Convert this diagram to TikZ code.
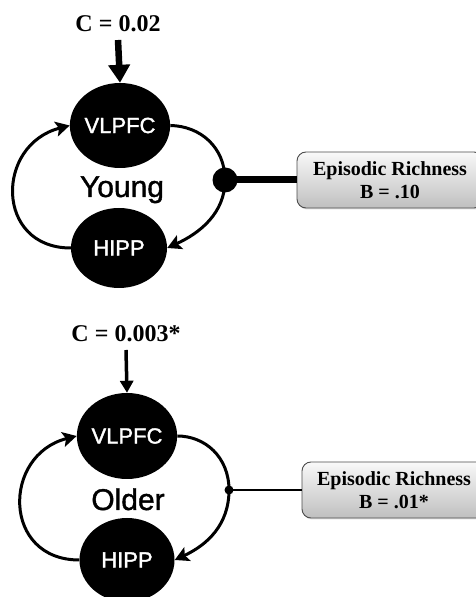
\documentclass[tikz,border=0pt]{standalone}
\usepackage{fontspec}
\setmainfont{Liberation Serif}
\newfontfamily\arialf[FakeBold=1.6]{Liberation Sans}
\newfontfamily\arialg[FakeBold=1.2]{Liberation Sans}
\usetikzlibrary{shapes.geometric,arrows.meta,shadows}
\begin{document}
\begin{tikzpicture}[x=1pt,y=1pt,
  region/.style={ellipse, fill=black, inner sep=0pt, text=white,
    font=\arialf\fontsize{22}{22}\selectfont},
  grouplbl/.style={font=\arialg\fontsize{30}{30}\selectfont, inner sep=0pt, anchor=base},
  clbl/.style={font=\bfseries\fontsize{24}{24}\selectfont, inner sep=0pt, anchor=base},
  rbox/.style={draw=black!70, line width=0.9pt, rounded corners=9pt,
    top color=gray!5, bottom color=gray!50, align=center,
    font=\bfseries\fontsize{20}{23}\selectfont, minimum height=56pt, inner sep=0pt,
    drop shadow={opacity=0.25, shadow xshift=1pt, shadow yshift=-1.5pt}},
  fbarrow/.style={line width=3pt, -{Stealth[length=14pt,width=15pt,inset=3pt]}},
  joint/.style={circle, fill=black, inner sep=0pt}
]
\path[use as bounding box, fill=white] (0,0) rectangle (475,597);

% ---------- Young ----------
\node[clbl] (cY) at (118,565) {C = 0.02};
\node[region, minimum width=95pt, minimum height=85pt] (vY) at (120,471.5) {VLPFC};
\node[grouplbl] (gY) at (122,400) {Young};
\node[region, minimum width=96pt, minimum height=80pt] (hY) at (119,349) {HIPP};
\node[joint, minimum size=25pt] (dY) at (225,417) {};
\node[rbox, minimum width=186pt] (bY) at (390,417) {Episodic Richness\\B = .10};

\draw[line width=6.5pt, -{Triangle[length=18pt,width=21pt]}] ([yshift=-8pt]cY.base) -- (vY.north);
\draw[fbarrow] (hY.west) .. controls (-5,349) and (-5,452) .. (vY.west);
\draw[fbarrow] (vY.east) .. controls (200,471) and (225,450) .. (dY.center)
  .. controls (225,384) and (200,364) .. (hY.east);
\draw[line width=7pt] (dY.center) -- (bY.west);

% ---------- Older ----------
\node[clbl] (cO) at (126,255) {C = 0.003*};
\node[region, minimum width=95pt, minimum height=86pt] (vO) at (127,161) {VLPFC};
\node[grouplbl] (gO) at (128,87) {Older};
\node[region, minimum width=95pt, minimum height=84pt] (hO) at (127,37) {HIPP};
\node[joint, minimum size=9pt] (dO) at (229,107) {};
\node[rbox, minimum width=184pt] (bO) at (394,107) {Episodic Richness\\B = .01*};

\draw[line width=3.5pt, -{Triangle[length=12pt,width=13pt]}] ([yshift=-8pt]cO.base) -- (vO.north);
\draw[fbarrow] (hO.west) .. controls (2,37) and (2,142) .. (vO.west);
\draw[fbarrow] (vO.east) .. controls (205,161) and (229,140) .. (dO.center)
  .. controls (229,72) and (207,52) .. (hO.east);
\draw[line width=2.5pt] (dO.center) -- (bO.west);
\end{tikzpicture}
\end{document}
